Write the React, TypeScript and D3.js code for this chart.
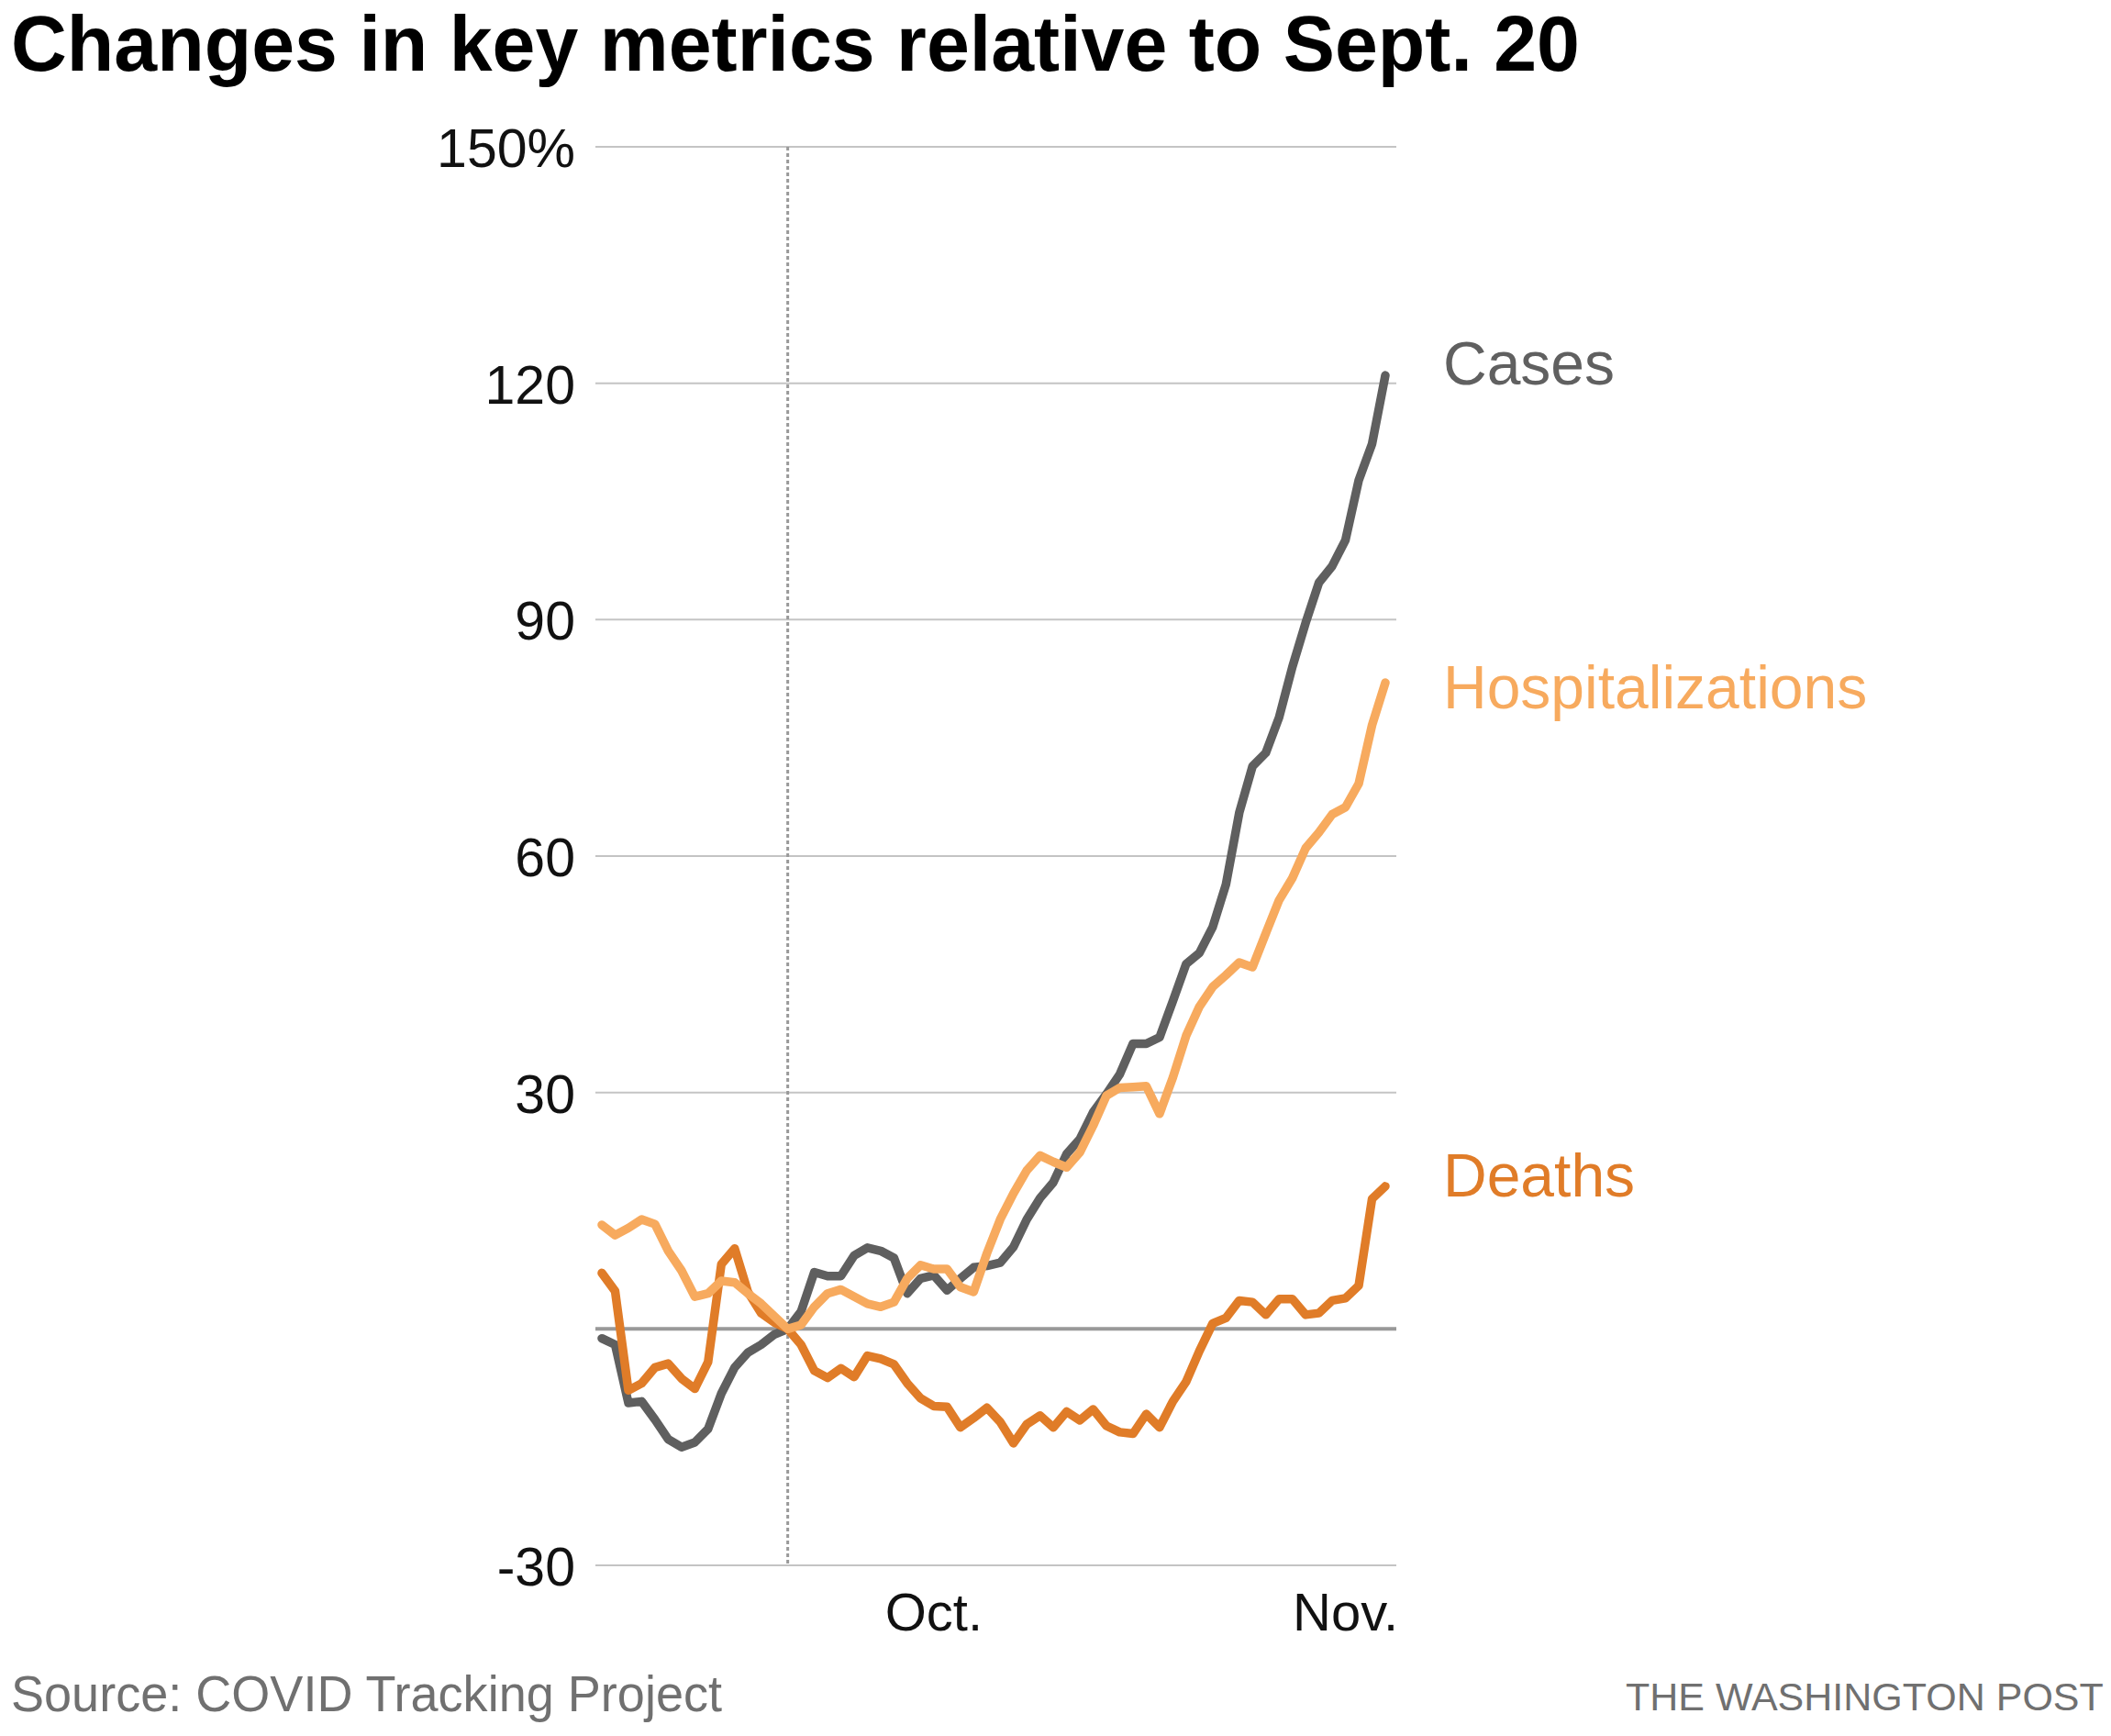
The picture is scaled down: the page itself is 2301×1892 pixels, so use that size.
import React, { useEffect } from 'react';
import * as d3 from 'd3';

// daily values, Sept. 6 – Nov. 4, % change relative to Sept. 20
const startDate = new Date(2020, 8, 6);
const endDate = new Date(2020, 10, 4);
const refDate = new Date(2020, 8, 20);

const cases = [
  -1.2, -2.0, -9.4, -9.2, -11.5, -14.0, -15.0, -14.4, -12.7, -8.2, -4.9, -3.0, -2.0, -0.7, 0,
  2.2, 7.2, 6.7, 6.7, 9.3, 10.3, 9.9, 9.0, 4.5, 6.4, 6.8, 4.9, 6.4, 7.8, 8.0,
  8.4, 10.4, 13.9, 16.6, 18.6, 22.2, 24.1, 27.5, 29.8, 32.3, 36.2, 36.2, 37.0, 41.6, 46.3,
  47.7, 51.0, 56.4, 65.5, 71.4, 73.1, 77.6, 84.0, 89.6, 94.7, 96.8, 100.1, 107.7, 112.3, 121.0,
];

const hospitalizations = [
  13.2, 11.9, 12.8, 13.9, 13.3, 9.9, 7.4, 4.1, 4.5, 6.1, 5.9, 4.5, 3.2, 1.6, 0,
  0.5, 2.8, 4.5, 5.0, 4.1, 3.2, 2.8, 3.4, 6.4, 8.1, 7.6, 7.6, 5.3, 4.7, 9.6,
  13.9, 17.2, 20.1, 22.0, 21.2, 20.5, 22.4, 25.8, 29.6, 30.6, 30.7, 30.8, 27.3, 31.9, 37.2,
  40.9, 43.4, 44.9, 46.5, 45.9, 50.2, 54.4, 57.2, 61.0, 63.0, 65.3, 66.2, 69.2, 76.6, 82.0,
];

const deaths = [
  7.1, 4.8, -7.8, -6.9, -4.9, -4.4, -6.3, -7.6, -4.2, 8.2, 10.2, 4.7, 2.0, 0.8, 0,
  -2.0, -5.3, -6.2, -5.0, -6.1, -3.4, -3.8, -4.5, -6.9, -8.8, -9.8, -9.9, -12.5, -11.3, -10.0,
  -11.8, -14.5, -12.1, -11.0, -12.5, -10.5, -11.6, -10.2, -12.3, -13.1, -13.3, -10.8, -12.5, -9.2, -6.7,
  -2.8, 0.7, 1.4, 3.6, 3.4, 1.8, 3.8, 3.8, 1.8, 2.0, 3.6, 3.9, 5.5, 16.5, 18.1,
];

const yTicks = [-30, 0, 30, 60, 90, 120, 150];
const yTickLabels = ['-30', '', '30', '60', '90', '120', '150%'];
const xTicks = [new Date(2020, 9, 1), new Date(2020, 10, 1)];
const xTickLabels = ['Oct.', 'Nov.'];

const seriesNames = ['Cases', 'Deaths', 'Hospitalizations'];
const seriesValues = [cases, deaths, hospitalizations];
const seriesColors = ['#5f5f5f', '#e07c28', '#f7aa5e'];
const seriesLabelAt = [119.8, 16.8, 78.8];

const W = 2301;
const H = 1892;
const font = '"Liberation Sans", Arial, "DejaVu Sans", sans-serif';

export default function App() {
  useEffect(() => {
    document.body.style.margin = '0';
  }, []);

  const dates = d3.timeDay.range(startDate, d3.timeDay.offset(endDate, 1));

  const x = d3.scaleTime().domain([startDate, endDate]).range([656, 1510]);
  const y = d3.scaleLinear().domain([-30, 150]).range([1706, 160]);
  const gridX0 = 649;
  const gridX1 = 1522;

  const line = d3
    .line<number>()
    .x((_, i) => x(dates[i]))
    .y((d) => y(d));

  return (
    <svg width={W} height={H} style={{ display: 'block', background: '#fff' }}>
      <text x={12} y={77} fontFamily={font} fontWeight="bold" fontSize={85}
        textLength={1710} lengthAdjust="spacingAndGlyphs" fill="#000">
        Changes in key metrics relative to Sept. 20
      </text>

      {/* gridlines + y labels */}
      {yTicks.map((t, i) => (
        <g key={t}>
          <line x1={gridX0} x2={gridX1} y1={y(t)} y2={y(t)}
            stroke={t === 0 ? '#999' : '#c4c4c4'} strokeWidth={t === 0 ? 4 : 2} />
          <text x={627} y={y(t) + 22} textAnchor="end" fontFamily={font}
            fontSize={59} fill="#111">{yTickLabels[i]}</text>
        </g>
      ))}

      {/* reference date */}
      <line x1={x(refDate)} x2={x(refDate)} y1={y(150)} y2={y(-30)}
        stroke="#999" strokeWidth={3} strokeDasharray="4,3" />

      {xTicks.map((t, i) => (
        <text key={i} x={x(t)} y={1777} textAnchor="middle" fontFamily={font}
          fontSize={58} fill="#111">{xTickLabels[i]}</text>
      ))}

      {seriesValues.map((vals, i) => (
        <path key={seriesNames[i]} d={line(vals) || ''} fill="none"
          stroke={seriesColors[i]} strokeWidth={9.5}
          strokeLinejoin="round" strokeLinecap="round" />
      ))}

      {seriesNames.map((n, i) => (
        <text key={n} x={1573} y={y(seriesLabelAt[i])} fontFamily={font}
          fontSize={66} fill={i === 0 ? '#606060' : seriesColors[i]}>{n}</text>
      ))}

      <text x={12} y={1865} fontFamily={font} fontSize={56} fill="#707070"
        textLength={775} lengthAdjust="spacingAndGlyphs">
        Source: COVID Tracking Project
      </text>
      <text x={1772} y={1864} fontFamily={font} fontSize={43} fill="#707070">
        THE WASHINGTON POST
      </text>
    </svg>
  );
}
